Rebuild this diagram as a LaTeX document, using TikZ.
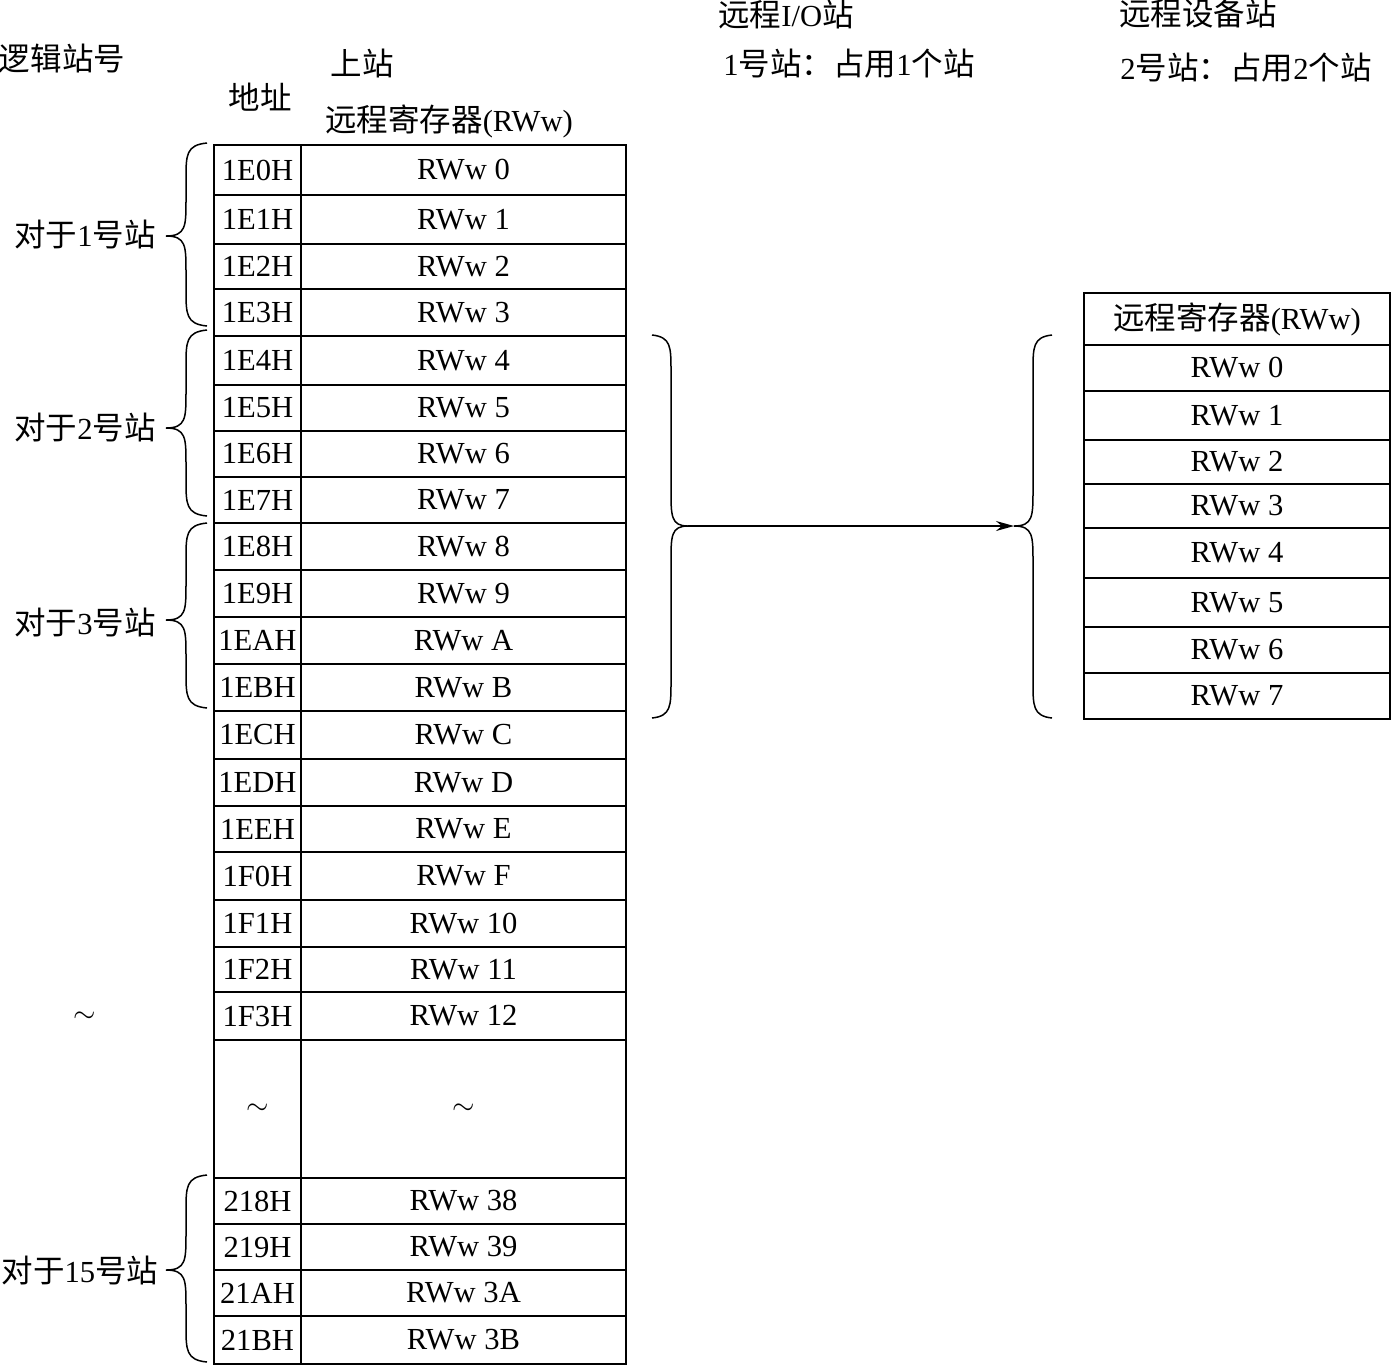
\documentclass[tikz,border=0pt]{standalone}
\usepackage{fontspec}
\setmainfont{Liberation Serif}
\newfontfamily\cjk{Noto Sans CJK SC}[Scale=1.03]
\usetikzlibrary{arrows.meta}
\newcommand{\zh}[1]{{\cjk #1}}
\newcommand{\mybrace}[6]{% xe xb xt y1 ym y2
  \draw[brc] (#1,#4) .. controls (#2,#4+2) and (#2,#4+12) .. (#2,#4+36) -- (#2,#5-36)
    .. controls (#2,#5-10) and (#2,#5) .. (#3,#5) .. controls (#2,#5) and (#2,#5+10) .. (#2,#5+36)
    -- (#2,#6-36) .. controls (#2,#6-12) and (#2,#6-2) .. (#1,#6);}
\begin{document}
\begin{tikzpicture}[x=0.5pt,y=-0.5pt,
  every node/.style={font=\fontsize{15.3}{18}\selectfont, inner sep=0pt},
  cell/.style={draw, line width=0.8pt, inner sep=0pt, outer sep=0pt},
  brc/.style={line width=0.75pt},
  outer/.style={line width=1.1pt}]
\useasboundingbox (0,0) rectangle (1392,1367);

% headers
\node (hlogic) at (62,58) {\zh{逻辑站号}};
\node (hmaster) at (362,63) {\zh{上站}};
\node (haddr) at (260,97) {\zh{地址}};
\node (hreg) at (449,121) {\zh{远程寄存器}(RWw)};
\node (hio) at (786,14) {\zh{远程}I/O\zh{站}};
\node (hio2) at (849,64) {1\zh{号站：占用}1\zh{个站}};
\node (hdev) at (1198,14) {\zh{远程设备站}};
\node (hdev2) at (1246,68) {2\zh{号站：占用}2\zh{个站}};

% main table
\foreach \t/\b/\ad/\rw [count=\i] in {
 145/195/1E0H/RWw 0, 195/244/1E1H/RWw 1, 244/289/1E2H/RWw 2, 289/336/1E3H/RWw 3,
 336/385/1E4H/RWw 4, 385/431/1E5H/RWw 5, 431/477/1E6H/RWw 6, 477/523/1E7H/RWw 7,
 523/570/1E8H/RWw 8, 570/617/1E9H/RWw 9, 617/664/1EAH/RWw A, 664/711/1EBH/RWw B,
 711/759/1ECH/RWw C, 759/806/1EDH/RWw D, 806/852/1EEH/RWw E, 852/900/1F0H/RWw F,
 900/947/1F1H/RWw 10, 947/992/1F2H/RWw 11, 992/1040/1F3H/RWw 12,
 1040/1178/$\sim$/$\sim$,
 1178/1224/218H/RWw 38, 1224/1270/219H/RWw 39, 1270/1316/21AH/RWw 3A, 1316/1364/21BH/RWw 3B}{
  \pgfmathsetmacro\hh{(\b-\t)*0.5}
  \node[cell, minimum width=43.5pt, minimum height=\hh pt] (a\i) at (257.5,{(\t+\b)/2}) {\ad};
  \node[cell, minimum width=162.5pt, minimum height=\hh pt] (r\i) at (463.5,{(\t+\b)/2}) {\rw};
}
\draw[outer] (a1.north west) rectangle (r24.south east);

% right table
\node[cell, minimum width=153pt, minimum height=26pt] (rh) at (1237,319) {\zh{远程寄存器}(RWw)};
\foreach \t/\b/\rw [count=\i] in {
 345/391/RWw 0, 391/440/RWw 1, 440/484/RWw 2, 484/528/RWw 3,
 528/578/RWw 4, 578/627/RWw 5, 627/673/RWw 6, 673/719/RWw 7}{
  \pgfmathsetmacro\hh{(\b-\t)*0.5}
  \node[cell, minimum width=153pt, minimum height=\hh pt] (s\i) at (1237,{(\t+\b)/2}) {\rw};
}
\draw[outer] (rh.north west) rectangle (s8.south east);

% left braces and labels
\mybrace{207}{186}{166}{143}{236}{326}
\mybrace{207}{186}{166}{330}{428}{516}
\mybrace{207}{186}{166}{523}{620}{708}
\mybrace{207}{186}{166}{1175}{1270}{1362}
\node (st1) at (85,234) {\zh{对于}1\zh{号站}};
\node (st2) at (85,427) {\zh{对于}2\zh{号站}};
\node (st3) at (85,622) {\zh{对于}3\zh{号站}};
\node (stt) at (85,1017) {$\sim$};
\node (st15) at (80,1270) {\zh{对于}15\zh{号站}};

% middle braces and arrow
\mybrace{652}{671}{688}{335}{526}{718}
\mybrace{1052}{1033}{1014}{335}{526}{718}
\coordinate (bt1) at (688,526);
\coordinate (bt2) at (1014,526);
\draw[line width=0.9pt, -{Stealth[length=9pt,width=5pt]}] (bt1) -- (bt2);
\end{tikzpicture}
\end{document}
